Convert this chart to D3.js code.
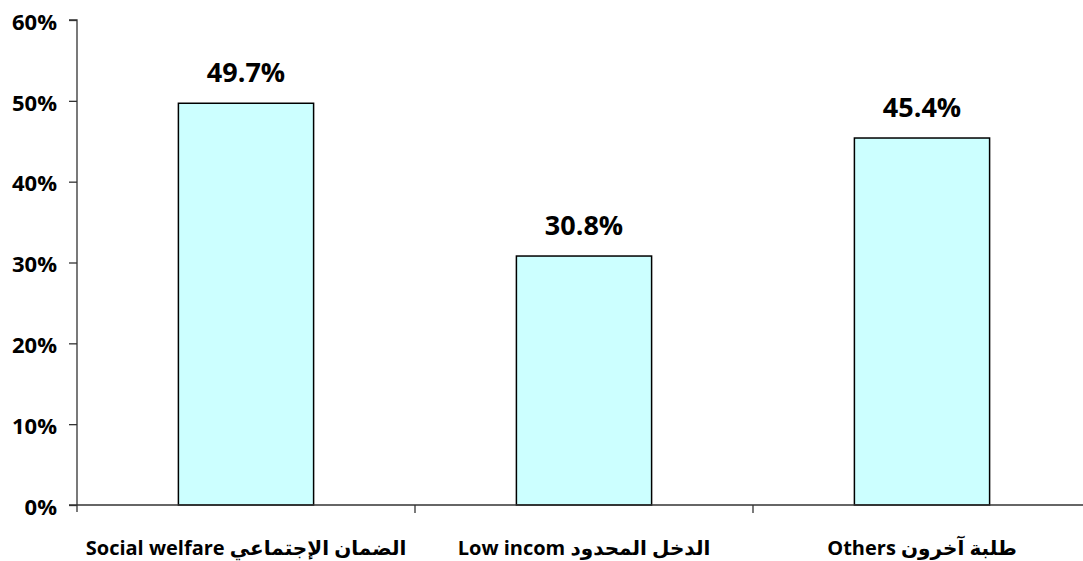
<!DOCTYPE html>
<html>
<head>
<meta charset="utf-8">
<script src="https://cdn.jsdelivr.net/npm/d3@7"></script>
<style>
  body { margin: 0; background: #fff; }
  text { font-family: "Open Sans", "DejaVu Sans", sans-serif; font-weight: bold; fill: #000; }
</style>
</head>
<body>
<div id="chart"></div>
<script>
// data
var categories = ["Social welfare الضمان الإجتماعي", "Low incom الدخل المحدود", "Others طلبة آخرون"];
var values = [49.7, 30.8, 45.4];
var yTicks = [0, 10, 20, 30, 40, 50, 60];

var W = 1083, H = 561;
var margin = { top: 20, right: -8, bottom: 56, left: 77 };
var width = W - margin.left - margin.right,
    height = H - margin.top - margin.bottom;

var svg = d3.select("#chart").append("svg")
    .attr("width", W)
    .attr("height", H)
    .append("g")
    .attr("transform", "translate(" + margin.left + "," + margin.top + ")");

var x = d3.scaleBand()
    .domain(categories)
    .range([0, width])
    .paddingInner(0.6)
    .paddingOuter(0.3);

var y = d3.scaleLinear()
    .domain([0, 60])
    .range([height, 0]);

// bars
svg.selectAll("rect.bar")
    .data(values)
    .enter()
    .append("rect")
    .attr("class", "bar")
    .attr("x", function(d, i) { return x(categories[i]); })
    .attr("y", function(d) { return y(d); })
    .attr("width", x.bandwidth())
    .attr("height", function(d) { return height - y(d); })
    .attr("fill", "#ccffff")
    .attr("stroke", "#000")
    .attr("stroke-width", 1.5);

// value labels
svg.selectAll("text.val")
    .data(values)
    .enter()
    .append("text")
    .attr("class", "val")
    .attr("x", function(d, i) { return x(categories[i]) + x.bandwidth() / 2; })
    .attr("y", function(d) { return y(d) - 21; })
    .attr("text-anchor", "middle")
    .style("font-size", "27px")
    .text(function(d) { return d.toFixed(1) + "%"; });

// y axis
var yAxis = d3.axisLeft(y)
    .tickValues(yTicks)
    .tickSize(8)
    .tickPadding(12)
    .tickFormat(function(d) { return d + "%"; });

var gy = svg.append("g").call(yAxis);
gy.select(".domain").attr("stroke", "#333").attr("stroke-width", 1.3).attr("d", "M0," + (height + 7) + "V0H-8");
gy.selectAll(".tick line").attr("stroke", "#333").attr("stroke-width", 1.3);
gy.selectAll(".tick text")
    .style("font-size", "22px")
    .attr("dy", "0.42em");

// x axis line with category dividers below
var gx = svg.append("g").attr("transform", "translate(0," + height + ")");
gx.append("line")
    .attr("x1", -8).attr("x2", width)
    .attr("stroke", "#333").attr("stroke-width", 1.3);
gx.selectAll("line.div")
    .data(d3.range(1, categories.length + 1))
    .enter()
    .append("line")
    .attr("class", "div")
    .attr("x1", function(i) { return i * width / categories.length; })
    .attr("x2", function(i) { return i * width / categories.length; })
    .attr("y1", 0).attr("y2", 8)
    .attr("stroke", "#333").attr("stroke-width", 1.3);

gx.selectAll("text.cat")
    .data(categories)
    .enter()
    .append("text")
    .attr("class", "cat")
    .attr("x", function(d) { return x(d) + x.bandwidth() / 2; })
    .attr("y", 50)
    .attr("text-anchor", "middle")
    .attr("direction", "ltr")
    .style("unicode-bidi", "plaintext")
    .style("font-size", "20px")
    .text(function(d) { return d; });
</script>
</body>
</html>
